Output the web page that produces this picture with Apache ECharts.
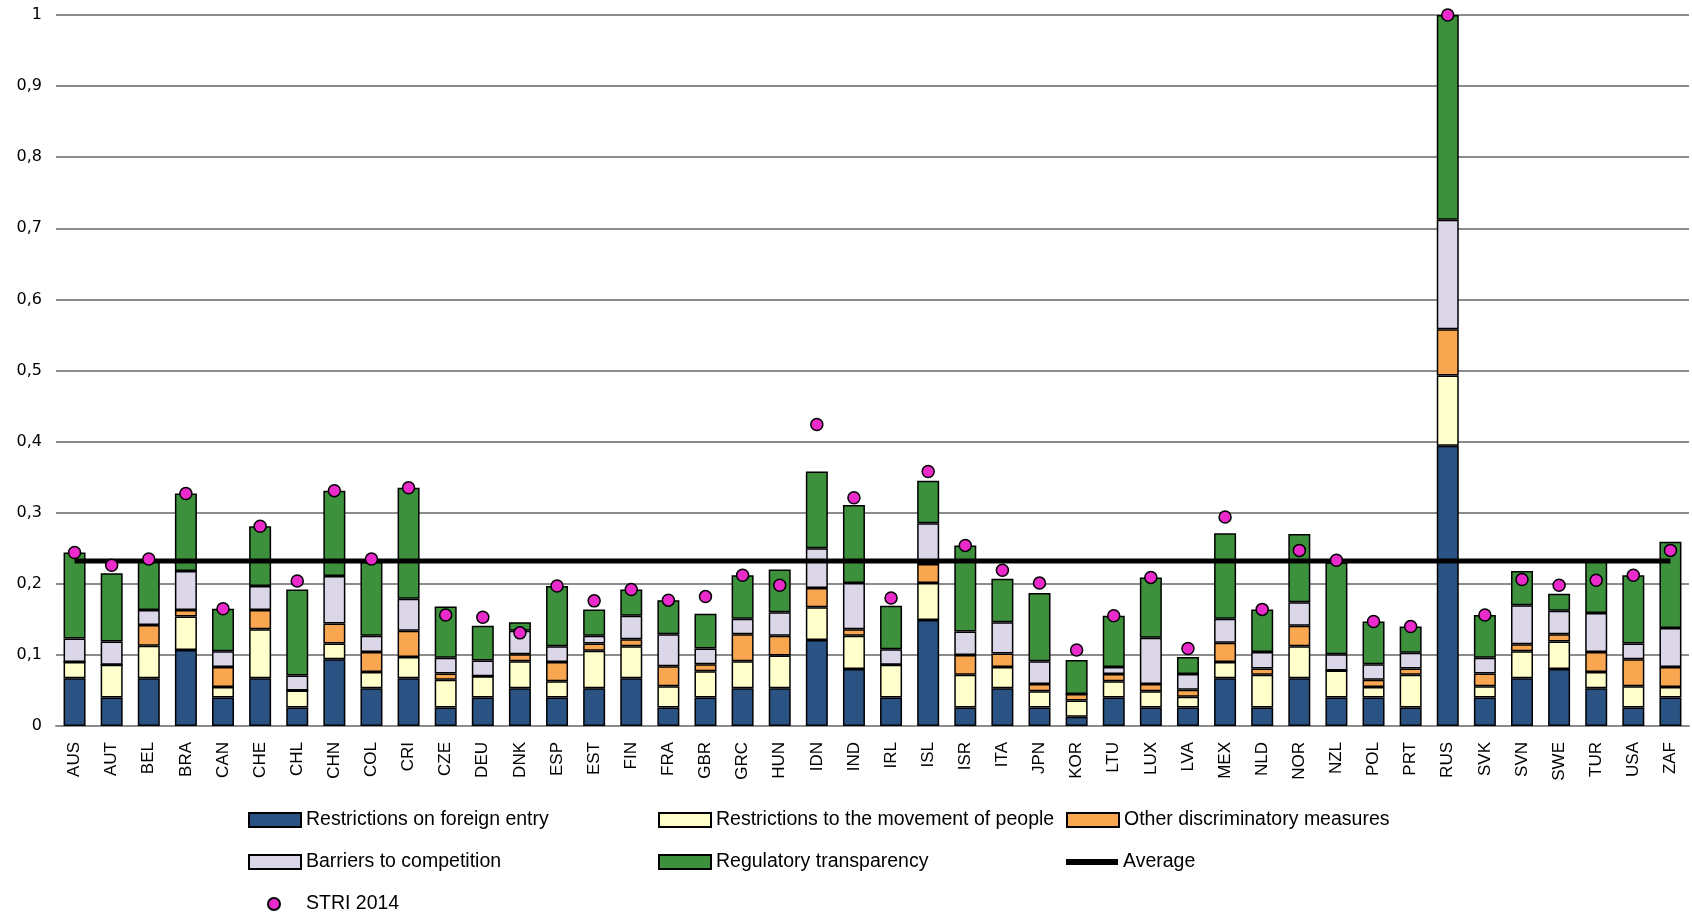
<!DOCTYPE html>
<html><head><meta charset="utf-8">
<script src="https://cdn.jsdelivr.net/npm/echarts@6/dist/echarts.min.js"></script>
<style>html,body{margin:0;padding:0;background:#fff}#c{width:1692px;height:914px}</style>
</head><body><div id="c"></div>
<script>
const categories = ['AUS','AUT','BEL','BRA','CAN','CHE','CHL','CHN','COL','CRI','CZE','DEU','DNK','ESP','EST','FIN','FRA','GBR','GRC','HUN','IDN','IND','IRL','ISL','ISR','ITA','JPN','KOR','LTU','LUX','LVA','MEX','NLD','NOR','NZL','POL','PRT','RUS','SVK','SVN','SWE','TUR','USA','ZAF'];
const foreignEntry = [0.067,0.040,0.067,0.107,0.040,0.067,0.026,0.094,0.053,0.067,0.026,0.040,0.053,0.040,0.053,0.067,0.026,0.040,0.053,0.053,0.121,0.080,0.040,0.149,0.026,0.053,0.026,0.013,0.040,0.026,0.026,0.067,0.026,0.067,0.040,0.040,0.026,0.394,0.040,0.067,0.080,0.053,0.026,0.040];
const movementPeople = [0.023,0.046,0.046,0.047,0.015,0.069,0.024,0.022,0.023,0.030,0.039,0.030,0.038,0.023,0.053,0.045,0.030,0.037,0.038,0.046,0.046,0.047,0.046,0.052,0.046,0.030,0.023,0.023,0.023,0.023,0.015,0.023,0.046,0.045,0.038,0.015,0.046,0.099,0.016,0.038,0.039,0.023,0.030,0.015];
const otherDiscrim = [0,0,0.029,0.009,0.028,0.027,0,0.028,0.028,0.037,0.009,0,0.010,0.027,0.010,0.010,0.028,0.010,0.038,0.028,0.027,0.009,0,0.027,0.028,0.019,0.010,0.009,0.010,0.010,0.010,0.027,0.009,0.029,0,0.010,0.009,0.065,0.018,0.010,0.010,0.028,0.038,0.028];
const barriersCompetition = [0.033,0.033,0.021,0.055,0.022,0.034,0.021,0.067,0.023,0.045,0.022,0.022,0.033,0.022,0.011,0.033,0.045,0.022,0.022,0.033,0.056,0.065,0.022,0.057,0.033,0.044,0.032,0,0.010,0.065,0.022,0.034,0.023,0.033,0.023,0.022,0.022,0.154,0.022,0.055,0.033,0.055,0.022,0.055];
const regTransparency = [0.121,0.096,0.072,0.109,0.060,0.084,0.121,0.120,0.104,0.156,0.072,0.049,0.012,0.085,0.037,0.037,0.048,0.049,0.061,0.060,0.108,0.110,0.061,0.060,0.121,0.061,0.096,0.048,0.072,0.085,0.024,0.120,0.060,0.096,0.129,0.060,0.037,0.288,0.060,0.048,0.024,0.073,0.096,0.121];
const stri2014 = [0.244,0.226,0.235,0.327,0.165,0.281,0.204,0.331,0.235,0.335,0.156,0.153,0.131,0.197,0.176,0.192,0.177,0.182,0.212,0.198,0.424,0.321,0.180,0.358,0.254,0.219,0.201,0.107,0.155,0.209,0.109,0.294,0.164,0.247,0.233,0.147,0.140,1.0,0.156,0.206,0.198,0.205,0.212,0.247];
const averageValue = 0.232;

const names = ['Restrictions on foreign entry','Restrictions to the movement of people','Other discriminatory measures','Barriers to competition','Regulatory transparency','Average','STRI 2014'];
const colors = ['#2a5283','#ffffcc','#f9a650','#dcd6e9','#3e913c','#000000','#ea2acb'];
const barData = [foreignEntry, movementPeople, otherDiscrim, barriersCompetition, regTransparency];

const FONT = 'Liberation Sans';
const series = barData.map((d,i)=>({
  name: names[i], type:'bar', stack:'s', data:d, barWidth:22,
  itemStyle:{color:colors[i], borderColor:'#000', borderWidth:1.5},
  emphasis:{disabled:true}
}));
series.push({name:names[5], type:'line', data:categories.map(()=>averageValue), symbol:'none',
  lineStyle:{color:'#000', width:5}, itemStyle:{color:'#000'}, z:3});
series.push({name:names[6], type:'scatter', data:stri2014, symbolSize:12,
  itemStyle:{color:colors[6], borderColor:'#000', borderWidth:1.5, opacity:1}, z:4});

const legendPos = [[248,810],[658,810],[1066,810],[248,852],[658,852],[1066,852],[267,894]];
const legends = names.map((n,i)=>({
  data:[n], left:legendPos[i][0], top:legendPos[i][1], padding:0,
  itemWidth: i===6?12:52,
  itemHeight: i===5?6:(i===6?12:14), itemGap:0,
  icon: i===5?'rect':(i===6?'circle':'rect'),
  textStyle:{fontFamily:FONT, fontSize:19.5, color:'#000', padding:[0,0,0,i===6?21:0]},
  selectedMode:false
}));

const chart = echarts.init(document.getElementById('c'));
chart.setOption({
  animation:false,
  grid:{left:56, right:3, top:15, bottom:188},
  legend: legends,
  xAxis:{type:'category', data:categories,
    axisLine:{show:true, lineStyle:{color:'#8c8c8c', width:2}}, axisTick:{show:false},
    axisLabel:{rotate:90, margin:16, fontFamily:FONT, fontSize:17, color:'#000', interval:0}},
  yAxis:{type:'value', min:0, max:1, interval:0.1,
    axisLine:{show:false}, axisTick:{show:false},
    splitLine:{lineStyle:{color:'#8c8c8c', width:2}},
    axisLabel:{margin:14, fontFamily:'DejaVu Sans', fontSize:16, color:'#000',
      formatter:v=>String(Math.round(v*10)/10).replace('.',',')}},
  series
});
</script></body></html>
